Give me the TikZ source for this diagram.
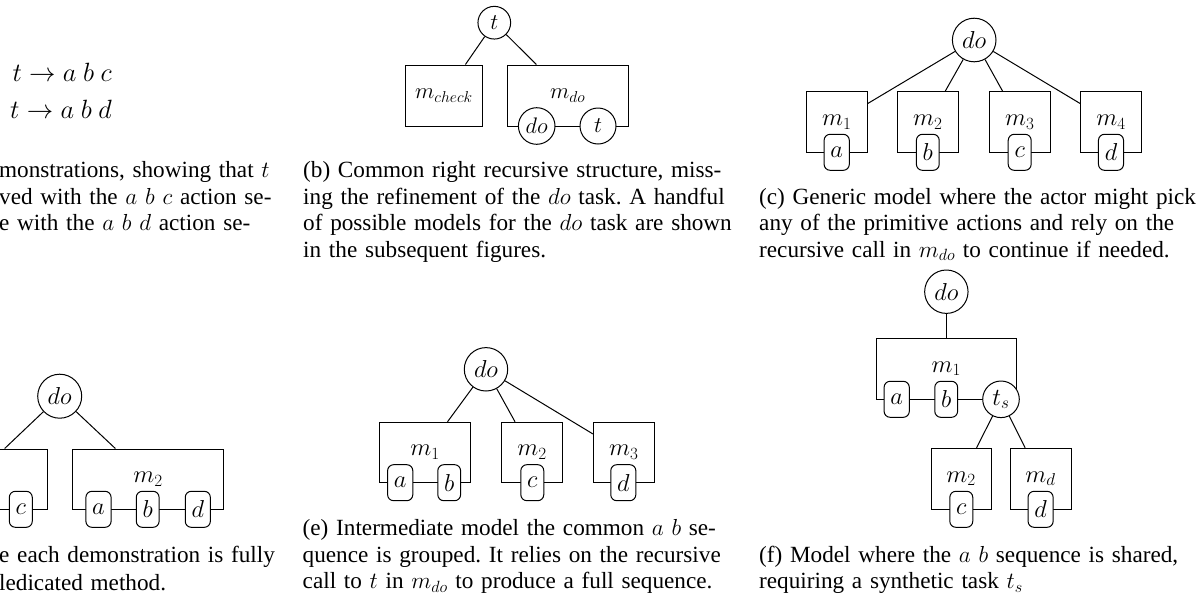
\RequirePackage{fix-cm}
\documentclass[tikz,border=0pt]{standalone}
\usepackage{fontspec}
\setmainfont{Liberation Serif}
\frenchspacing
\tikzset{
  capt/.style={inner sep=0pt, anchor=base west, align=left, font=\fontsize{23.2}{26.6}\selectfont\frenchspacing},
  eqn/.style={inner sep=0pt, anchor=base east, font=\fontsize{26.4}{30}\selectfont},
  task/.style={draw, circle, fill=white, inner sep=0pt, line width=1pt},
  prim/.style={draw, rounded corners=6pt, fill=white, inner xsep=6.3pt, inner ysep=0pt, minimum height=36pt, line width=1pt},
  meth/.style={draw, rectangle, inner sep=0pt, line width=1pt},
  edge/.style={line width=1pt},
}
\begin{document}
\begin{tikzpicture}[x=1pt,y=-1pt,font=\fontsize{24.5}{28}\selectfont]
\useasboundingbox (0,0) rectangle (1203,595);
\clip (0,0) rectangle (1203,595);

% ---------- (a)
\node[eqn] (eq1) at (112,81) {$t \rightarrow a\ b\ c$};
\node[eqn] (eq2) at (112,118) {$t \rightarrow a\ b\ d$};
\node[capt, text width=276pt] (capa) at (-1,177.5) {%
\makebox[276pt][s]{monstrations, showing that $t$}\\
\makebox[276pt][s]{ved with the $a$ $b$ $c$ action se-}\\
\makebox[276pt][s]{e with the $a$ $b$ $d$ action se-}};

% ---------- (b)
\begin{scope}[font=\fontsize{22.5}{26}\selectfont]
\node[meth, minimum width=76.6pt, minimum height=61pt] (mcheck) at (444,95.5) {$m_{check}$};
\node[meth, minimum width=120.7pt, minimum height=61pt] (mdo) at (567.65,95.5) {$m_{do}$};
\node[task, minimum size=36.6pt] (bdo) at (536.7,126) {$do$};
\node[task, minimum size=36pt] (bt2) at (598,126) {$t$};
\node[task, minimum size=32.7pt] (bt) at (494.3,22.7) {$t$};
\draw[edge] (bt) -- (mcheck);
\draw[edge] (bt) -- (mdo);
\end{scope}
\node[capt, text width=429pt] (capb) at (303,177.5) {%
\makebox[429pt][s]{(b) Common right recursive structure, miss-}\\
\makebox[429pt][s]{ing the refinement of the $do$ task. A handful}\\
\makebox[429pt][s]{of possible models for the $do$ task are shown}\\
in the subsequent figures.};

% ---------- (c)
\node[meth, minimum width=61pt, minimum height=60.6pt] (c1) at (836.7,122) {$m_1$};
\node[meth, minimum width=61pt, minimum height=60.6pt] (c2) at (927.8,122) {$m_2$};
\node[meth, minimum width=61pt, minimum height=60.6pt] (c3) at (1019.7,122) {$m_3$};
\node[meth, minimum width=61pt, minimum height=60.6pt] (c4) at (1111,122) {$m_4$};
\node[prim] (ca) at (836.7,152.3) {$a$};
\node[prim] (cb) at (927.8,152.3) {$b$};
\node[prim] (cc) at (1019.7,152.3) {$c$};
\node[prim] (cd) at (1111,152.3) {$d$};
\node[task, minimum size=43.6pt] (cdo) at (974.2,40) {$do$};
\draw[edge] (cdo) -- (c1);
\draw[edge] (cdo) -- (c2);
\draw[edge] (cdo) -- (c3);
\draw[edge] (cdo) -- (c4);
\node[capt, text width=429pt] (capc) at (759,204.1) {%
\makebox[429pt][s]{(c) Generic model where the actor might pick}\\
\makebox[429pt][s]{any of the primitive actions and rely on the}\\
recursive call in $m_{do}$ to continue if needed.};

% ---------- (d)
\node[meth, minimum width=150.6pt, minimum height=60.3pt] (d1) at (-27.6,479.2) {};
\node[meth, minimum width=150.6pt, minimum height=60.3pt] (d2) at (148,479.2) {$m_2$};
\node[prim] (dc) at (20.8,509.3) {$c$};
\node[prim] (da) at (98.5,509.3) {$a$};
\node[prim] (db) at (147.7,509.3) {$b$};
\node[prim] (dd) at (197.8,509.3) {$d$};
\node[task, minimum size=44pt] (ddo) at (59.7,396.2) {$do$};
\draw[edge] (ddo) -- (d1);
\draw[edge] (ddo) -- (d2);
\node[capt, text width=275pt] (capd) at (-1,562.1) {%
\makebox[275pt][s]{e each demonstration is fully}\\
\kern2pt ledicated method.};

% ---------- (e)
\node[meth, minimum width=91.4pt, minimum height=60.4pt] (e1) at (425,452.5) {$m_1$};
\node[meth, minimum width=60.6pt, minimum height=60.4pt] (e2) at (532,452.5) {$m_2$};
\node[meth, minimum width=60.7pt, minimum height=60.4pt] (e3) at (623.7,452.5) {$m_3$};
\node[prim] (ea) at (400.2,482.7) {$a$};
\node[prim] (eb) at (449.2,482.7) {$b$};
\node[prim] (ec) at (532.3,482.7) {$c$};
\node[prim] (ed) at (623.3,482.7) {$d$};
\node[task, minimum size=43.4pt] (edo) at (486,369.3) {$do$};
\draw[edge] (edo) -- (e1);
\draw[edge] (edo) -- (e2);
\draw[edge] (edo) -- (e3);
\node[capt, text width=429pt] (cape) at (302.5,535.5) {%
\makebox[429pt][s]{(e) Intermediate model the common $a$ $b$ se-}\\
\makebox[429pt][s]{quence is grouped. It relies on the recursive}\\
call to $t$ in $m_{do}$ to produce a full sequence.};

% ---------- (f)
\node[meth, minimum width=139.3pt, minimum height=61pt] (f1) at (946.35,368.8) {$m_1$};
\node[meth, minimum width=60pt, minimum height=61pt] (f2) at (961,478.8) {$m_2$};
\node[meth, minimum width=61pt, minimum height=61pt] (fmd) at (1040.5,478.8) {$m_d$};
\node[prim] (fa) at (896.7,399.3) {$a$};
\node[prim] (fb) at (946.2,399.3) {$b$};
\node[task, minimum size=36.6pt] (fts) at (1001,399.3) {$t_s$};
\node[prim] (fc) at (961.3,509.3) {$c$};
\node[prim] (fd) at (1040.6,509.3) {$d$};
\node[task, minimum size=43.4pt] (fdo) at (946.35,291.7) {$do$};
\draw[edge] (fdo) -- (f1);
\draw[edge] (fts) -- (f2);
\draw[edge] (fts) -- (fmd);
\node[capt, text width=429pt] (capf) at (759,562.1) {%
\makebox[429pt][s]{(f) Model where the $a$ $b$ sequence is shared,}\\
requiring a synthetic task $t_s$};
\end{tikzpicture}
\end{document}
